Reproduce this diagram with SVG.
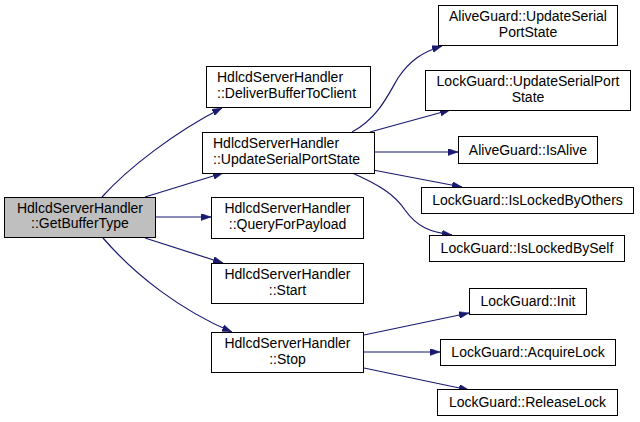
<svg xmlns="http://www.w3.org/2000/svg" width="640" height="422" viewBox="0 0 640 422">
<defs>
<style>
.n rect{fill:#ffffff;stroke:#000000;stroke-width:1}
.n.main rect{fill:#bfbfbf}
.n text{font-family:"Liberation Sans",Arial,sans-serif;font-size:14px;fill:#000000;text-anchor:middle}
.n text.l{text-anchor:start}
.e path{fill:none;stroke:#191970;stroke-width:1.2;marker-end:url(#ah)}
</style>
<marker id="ah" viewBox="0 0 10 7" refX="10" refY="3.5" markerWidth="10" markerHeight="7" markerUnits="userSpaceOnUse" orient="auto">
<path d="M0,0 L10,3.5 L0,7 z" fill="#191970" stroke="#191970" stroke-width="0.5"/>
</marker>
</defs>
<rect width="640" height="422" fill="#ffffff"/>
<g id="edges" class="e">
<path d="M102,197 C128,168 175,132 222,108"/>
<path d="M145,197 L223,173"/>
<path d="M156,217 L211,217"/>
<path d="M145,238 L223,263"/>
<path d="M103,238 C135,275 180,310 232,332"/>
<path d="M352,132 C378,118 388,95 398,78 C410,60 423,52 442,46"/>
<path d="M370,132 L450,110"/>
<path d="M374,152 L458,152"/>
<path d="M373,170 L462,187"/>
<path d="M350,172 C380,185 395,195 405,210 C417,227 430,232 452,235"/>
<path d="M364,335 L469,313"/>
<path d="M364,352 L440,352"/>
<path d="M364,368 L469,390"/>
</g>
<g id="n_getbuffertype" class="n main">
<rect x="4.5" y="197.5" width="151" height="40"/>
<text x="80" y="213">HdlcdServerHandler</text>
<text x="80" y="228">::GetBufferType</text>
</g>
<g id="n_deliver" class="n">
<rect x="206.5" y="66.5" width="164" height="41"/>
<text class="l" x="217" y="82">HdlcdServerHandler</text>
<text class="l" x="217" y="98">::DeliverBufferToClient</text>
</g>
<g id="n_updatesps" class="n">
<rect x="202.5" y="132.5" width="172" height="41"/>
<text class="l" x="213" y="148">HdlcdServerHandler</text>
<text class="l" x="213" y="164">::UpdateSerialPortState</text>
</g>
<g id="n_query" class="n">
<rect x="211.5" y="197.5" width="152" height="41"/>
<text x="287.5" y="213">HdlcdServerHandler</text>
<text x="287.5" y="229">::QueryForPayload</text>
</g>
<g id="n_start" class="n">
<rect x="211.5" y="263.5" width="152" height="40"/>
<text x="287.5" y="279">HdlcdServerHandler</text>
<text x="287.5" y="295">::Start</text>
</g>
<g id="n_stop" class="n">
<rect x="211.5" y="332.5" width="152" height="40"/>
<text x="287.5" y="348">HdlcdServerHandler</text>
<text x="287.5" y="364">::Stop</text>
</g>
<g id="n_ag_update" class="n">
<rect x="438.5" y="5.5" width="179" height="40"/>
<text x="528" y="21">AliveGuard::UpdateSerial</text>
<text x="528" y="37">PortState</text>
</g>
<g id="n_lg_update" class="n">
<rect x="425.5" y="70.5" width="205" height="40"/>
<text x="528" y="86">LockGuard::UpdateSerialPort</text>
<text x="528" y="102">State</text>
</g>
<g id="n_isalive" class="n">
<rect x="458.5" y="136.5" width="139" height="27"/>
<text x="528" y="155">AliveGuard::IsAlive</text>
</g>
<g id="n_others" class="n">
<rect x="421.5" y="187.5" width="212" height="26"/>
<text x="527.5" y="205">LockGuard::IsLockedByOthers</text>
</g>
<g id="n_self" class="n">
<rect x="429.5" y="235.5" width="195" height="26"/>
<text x="527" y="253">LockGuard::IsLockedBySelf</text>
</g>
<g id="n_init" class="n">
<rect x="469.5" y="288.5" width="117" height="26"/>
<text x="528" y="306">LockGuard::Init</text>
</g>
<g id="n_acquire" class="n">
<rect x="440.5" y="339.5" width="175" height="26"/>
<text x="528" y="357">LockGuard::AcquireLock</text>
</g>
<g id="n_release" class="n">
<rect x="437.5" y="389.5" width="180" height="26"/>
<text x="527.5" y="407">LockGuard::ReleaseLock</text>
</g>
</svg>
